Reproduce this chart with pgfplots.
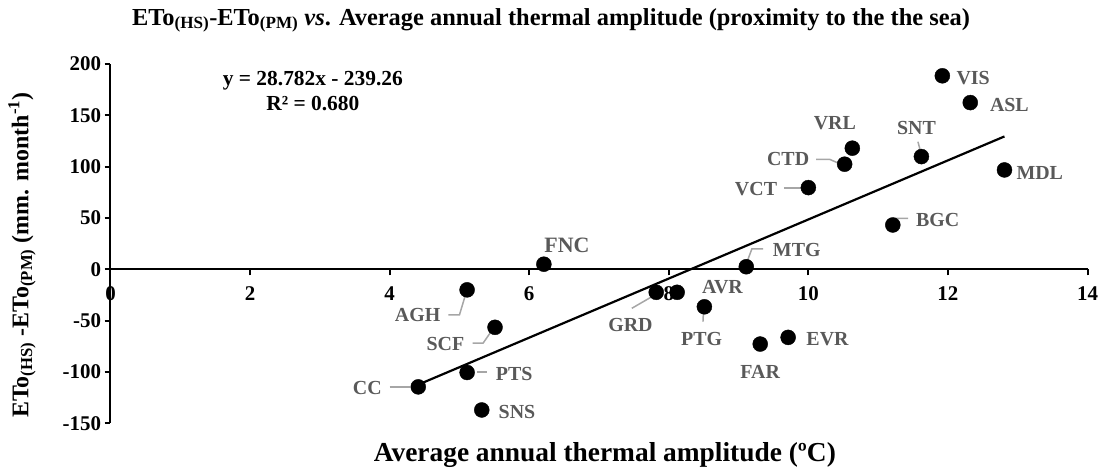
\documentclass[border=0pt]{standalone}
\usepackage{pgfplots}
\pgfplotsset{compat=1.18}
\usepackage{fontspec}
\setmainfont{Liberation Serif}
\definecolor{lbl}{HTML}{595959}
\definecolor{lead}{HTML}{A6A6A6}
\begin{document}
\begin{tikzpicture}
\useasboundingbox (-110.5bp,-44.7bp) rectangle (991.5bp,423.3bp);
\begin{axis}[
  scale only axis, width=977bp, height=359.3bp,
  at={(0,0)}, anchor=south west,
  xmin=0, xmax=14, ymin=-150, ymax=200,
  axis x line=middle, axis y line=left,
  axis line style={-, line width=2bp},
  hide obscured x ticks=false,
  xtick={0,2,...,14}, ytick={-150,-100,...,200},
  tick align=outside, major tick length=6bp,
  every tick/.style={black, line width=2bp},
  minor tick num=0,
  /pgf/number format/assume math mode=true,
  ticklabel style={font=\fontsize{21}{22}\selectfont\bfseries},
  xticklabel style={yshift=-8bp},
  title={ETo\textsubscript{(HS)}-ETo\textsubscript{(PM)} \textit{vs}. Average annual thermal amplitude (proximity to the the sea)},
  title style={font=\fontsize{24.5}{28}\selectfont\bfseries, at={(axis description cs:0.4509,1.105)}, anchor=center},
  xlabel={Average annual thermal amplitude (ºC)},
  xlabel style={font=\fontsize{27.5}{30}\selectfont\bfseries, at={(axis description cs:0.506,-0.0882)}, anchor=center},
  ylabel={ETo\textsubscript{(HS)} -ETo\textsubscript{(PM)} (mm. month\textsuperscript{-1})},
  ylabel style={font=\fontsize{24}{28}\selectfont\bfseries, at={(axis description cs:-0.0906,0.468)}, anchor=center},
  clip=false,
]
\addplot[black, line width=2.2bp] coordinates {(4.41,-112.33) (12.81,129.44)};
\addplot[only marks, mark=*, mark size=7.5bp, black] coordinates {
(4.41,-114.5) (5.11,-20) (5.11,-100.5) (5.32,-137) (5.51,-56.5)
(6.21,5) (7.82,-22.4) (8.12,-22.4) (8.51,-36.5) (9.11,2.5)
(9.31,-72.8) (9.71,-66.3) (10.0,79.6) (10.52,102.4) (10.63,118)
(11.21,43.2) (11.62,109.8) (11.92,188.5) (12.32,162.4) (12.81,96.8)
};
% leader lines
\begin{scope}[lead, line width=1.5bp]
\draw (axis cs:11.57,124.3) -- (axis cs:11.61,114.3);
\draw (axis cs:10.11,107.1) -- (axis cs:10.31,107.0) -- (axis cs:10.49,101.6);
\draw (axis cs:9.65,79.2) -- (axis cs:9.96,79.2);
\draw (axis cs:11.43,49.7) -- (axis cs:11.24,49.7) -- (axis cs:11.20,44.1);
\draw (axis cs:9.35,19.8) -- (axis cs:9.19,19.8) -- (axis cs:9.12,7.1);
\draw (axis cs:7.47,-38.0) -- (axis cs:7.80,-25.0);
\draw (axis cs:8.49,-51.0) -- (axis cs:8.50,-37.7);
\draw (axis cs:4.84,-44.5) -- (axis cs:5.00,-44.5) -- (axis cs:5.09,-24.1);
\draw (axis cs:5.19,-71.8) -- (axis cs:5.34,-71.8) -- (axis cs:5.47,-59.1);
\draw (axis cs:5.25,-100.1) -- (axis cs:5.40,-100.1);
\draw (axis cs:4.00,-114.4) -- (axis cs:4.29,-114.4);
\end{scope}
% data labels
\begin{scope}[every node/.style={text=lbl, font=\fontsize{20}{22}\selectfont\bfseries, inner sep=0pt}]
\node[anchor=west] at (axis cs:12.12,186.3) {VIS};
\node[anchor=west] at (axis cs:12.60,160.0) {ASL};
\node at (axis cs:10.38,142.2) {VRL};
\node at (axis cs:11.55,137.9) {SNT};
\node at (axis cs:9.71,107.1) {CTD};
\node[anchor=west] at (axis cs:12.98,94.1) {MDL};
\node at (axis cs:9.25,77.9) {VCT};
\node[anchor=west] at (axis cs:11.54,48.0) {BGC};
\node[anchor=west] at (axis cs:9.49,18.8) {MTG};
\node[font=\fontsize{22}{24}\selectfont\bfseries] at (axis cs:6.54,23.7) {FNC};
\node at (axis cs:8.77,-17.5) {AVR};
\node at (axis cs:7.45,-54.3) {GRD};
\node at (axis cs:8.47,-67.9) {PTG};
\node at (axis cs:9.31,-99.7) {FAR};
\node[anchor=west] at (axis cs:9.97,-68.2) {EVR};
\node at (axis cs:4.40,-44.5) {AGH};
\node at (axis cs:4.80,-72.8) {SCF};
\node[anchor=west] at (axis cs:5.52,-102.0) {PTS};
\node at (axis cs:3.68,-115.9) {CC};
\node[anchor=west] at (axis cs:5.56,-138.7) {SNS};
\end{scope}
\node[font=\fontsize{21.5}{25}\selectfont\bfseries, align=center, inner sep=0pt] at (axis cs:2.90,174.1) {y = 28.782x - 239.26\\R² = 0.680};
\end{axis}
\end{tikzpicture}
\end{document}
